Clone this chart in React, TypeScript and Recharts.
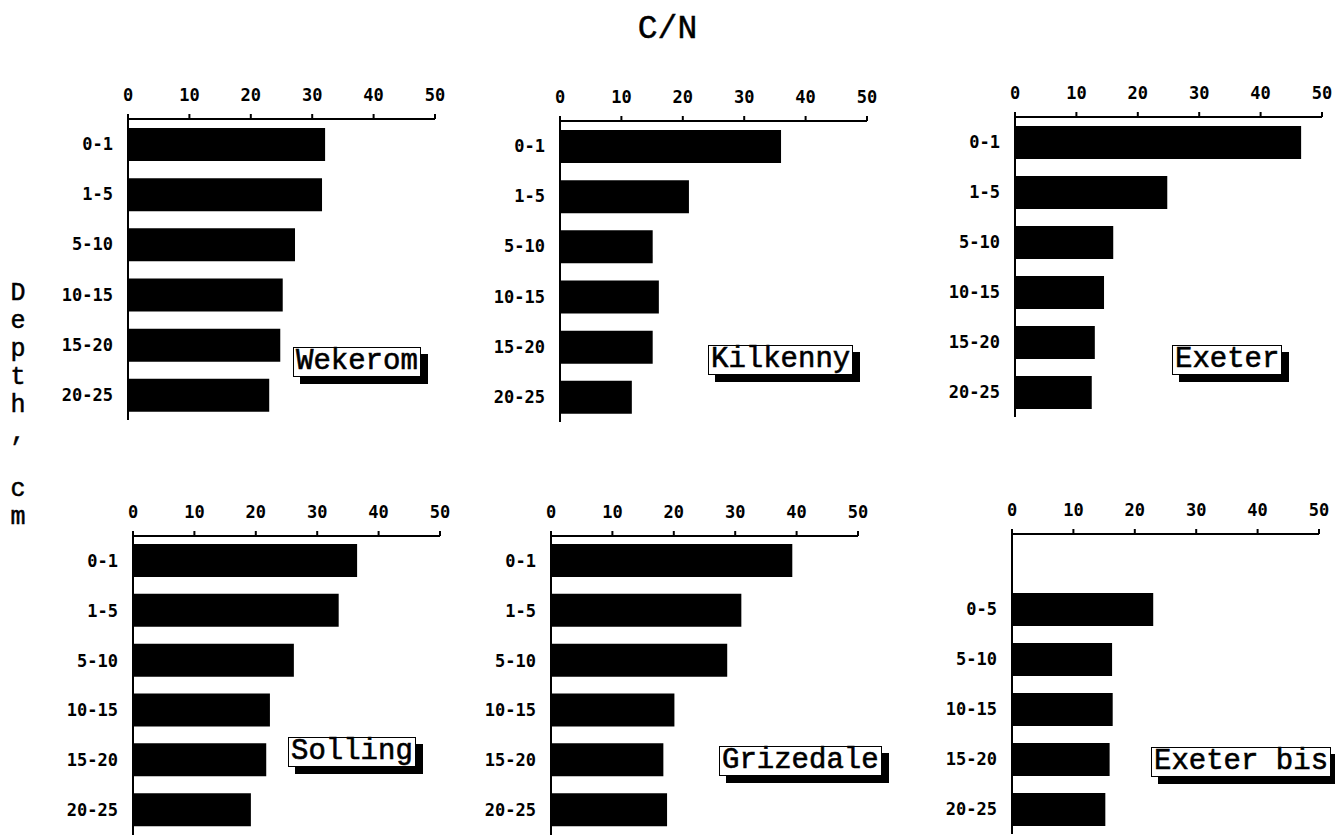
import React from "react";
import { BarChart, Bar, XAxis, YAxis } from "recharts";

const depths = ["0-1", "1-5", "5-10", "10-15", "15-20", "20-25"];
const depthsBis = ["", "0-5", "5-10", "10-15", "15-20", "20-25"];
const cnTicks = [0, 10, 20, 30, 40, 50];

const wekerom = [32.1, 31.6, 27.2, 25.2, 24.8, 23.0];
const kilkenny = [36.0, 21.0, 15.1, 16.1, 15.1, 11.7];
const exeter = [46.6, 24.8, 16.0, 14.5, 13.0, 12.5];
const solling = [36.5, 33.5, 26.2, 22.3, 21.7, 19.2];
const grizedale = [39.3, 31.0, 28.7, 20.1, 18.3, 18.9];
const exeterBis = [null, 23.0, 16.3, 16.4, 15.9, 15.2];

const yLabel = "Depth, cm";

interface IPanelProps {
  name: string;
  categories: string[];
  values: (number | null)[];
  left: number;
  top: number;
  plotHeight: number;
  boxLeft: number;
  boxTop: number;
}

const tickFont = { fontFamily: "DejaVu Sans Mono", fontWeight: 700, fontSize: 17, fill: "#000" };

const Panel: React.FC<IPanelProps> = ({ name, categories, values, left, top, plotHeight, boxLeft, boxTop }) => {
  const data = categories.map((c, i) => ({ depth: c, cn: values[i] }));
  return (
    <>
      <div style={{ position: "absolute", left: left - 80, top: top - 36 }}>
        <BarChart
          layout="vertical"
          width={80 + 307 + 15}
          height={36 + plotHeight + 2}
          data={data}
          margin={{ top: 6, right: 15, bottom: 2, left: 0 }}
        >
          <XAxis
            type="number"
            orientation="top"
            domain={[0, 50]}
            ticks={cnTicks}
            height={30}
            stroke="#000"
            strokeWidth={2}
            tickSize={5}
            tickMargin={13}
            tick={tickFont}
          />
          <YAxis
            type="category"
            dataKey="depth"
            width={80}
            stroke="#000"
            strokeWidth={2}
            tickLine={false}
            tickSize={0}
            tickMargin={15}
            tick={tickFont}
          />
          <Bar dataKey="cn" fill="#000" barSize={33} isAnimationActive={false} />
        </BarChart>
      </div>
      <div
        style={{
          position: "absolute",
          left: boxLeft,
          top: boxTop,
          fontFamily: "Liberation Mono",
          fontSize: 29,
          lineHeight: "28px",
          padding: "0 2px",
          background: "#fff",
          border: "1.5px solid #000",
          boxShadow: "7px 7px 0 #000",
          whiteSpace: "pre",
          WebkitTextStroke: "0.6px #000",
        }}
      >
        {name}
      </div>
    </>
  );
};

export default function App() {
  return (
    <div style={{ position: "absolute", left: 0, top: 0, width: 1335, height: 835, overflow: "hidden", background: "#fff" }}>
      <div
        style={{
          position: "absolute",
          left: 0,
          width: 1335,
          top: 12,
          textAlign: "center",
          fontFamily: "Liberation Mono",
          fontSize: 33,
          lineHeight: "36px",
          WebkitTextStroke: "0.5px #000",
        }}
      >
        C/N
      </div>
      <div
        style={{
          position: "absolute",
          left: 4,
          width: 28,
          top: 280,
          textAlign: "center",
          fontFamily: "Liberation Mono",
          fontSize: 25,
          lineHeight: "28px",
          WebkitTextStroke: "0.5px #000",
        }}
      >
        {yLabel.split("").map((ch, i) => (
          <div key={i} style={{ height: 28 }}>
            {ch === " " ? "\u00a0" : ch}
          </div>
        ))}
      </div>
      <Panel name="Wekerom" categories={depths} values={wekerom} left={128} top={119} plotHeight={301} boxLeft={293} boxTop={347} />
      <Panel name="Kilkenny" categories={depths} values={kilkenny} left={560} top={121} plotHeight={301} boxLeft={708} boxTop={345} />
      <Panel name="Exeter" categories={depths} values={exeter} left={1015} top={117} plotHeight={300} boxLeft={1172} boxTop={345} />
      <Panel name="Solling" categories={depths} values={solling} left={133} top={536} plotHeight={299} boxLeft={288} boxTop={737} />
      <Panel name="Grizedale" categories={depths} values={grizedale} left={551} top={536} plotHeight={299} boxLeft={719} boxTop={746} />
      <Panel name="Exeter bis" categories={depthsBis} values={exeterBis} left={1012} top={534} plotHeight={300} boxLeft={1151} boxTop={747} />
    </div>
  );
}
